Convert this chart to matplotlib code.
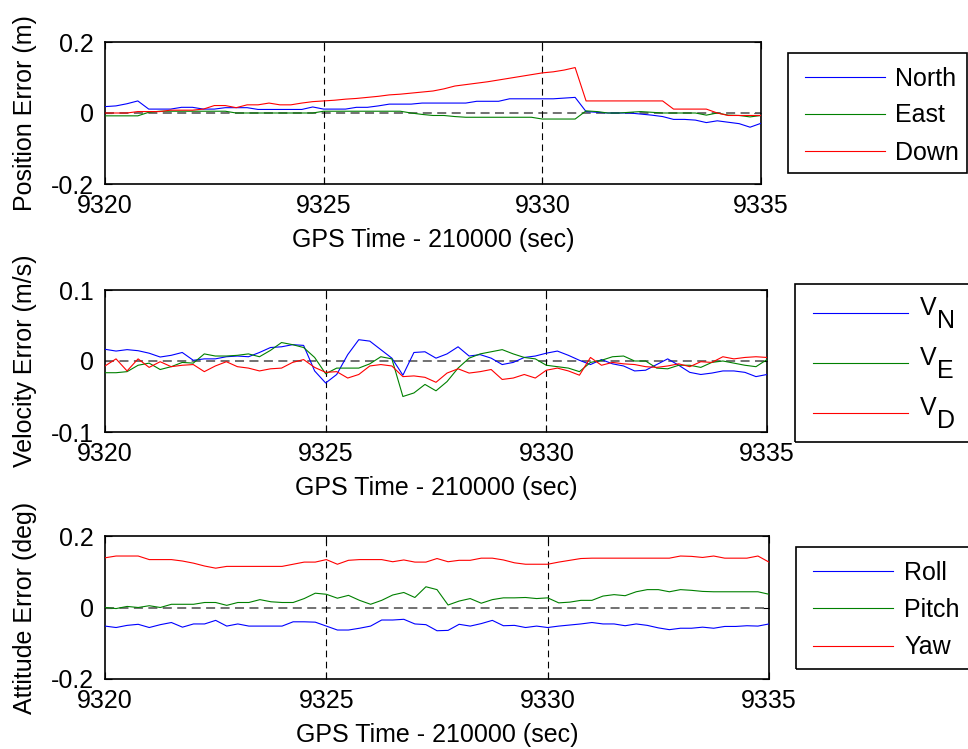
"""
Navigation error plots: position, velocity and attitude vs GPS time.
"""
import numpy as np
import matplotlib
matplotlib.use('Agg')
import matplotlib.pyplot as plt
from matplotlib.patches import Rectangle
from matplotlib.ticker import FuncFormatter
from matplotlib.legend_handler import HandlerLine2D

plt.rcParams['font.family'] = ['Liberation Sans', 'DejaVu Sans']
plt.rcParams['font.size'] = 18

# sample times (GPS time - 210000 s), 0.25 s step
time = np.arange(9320, 9335.001, 0.25)

pos_north = [0.018, 0.020, 0.026, 0.034, 0.011, 0.011, 0.011, 0.016, 0.016, 0.011,
             0.011, 0.015, 0.015, 0.015, 0.010, 0.010, 0.010, 0.010, 0.010, 0.017,
             0.011, 0.011, 0.011, 0.016, 0.016, 0.020, 0.025, 0.025, 0.025, 0.028,
             0.028, 0.028, 0.028, 0.028, 0.033, 0.033, 0.033, 0.040, 0.040, 0.040,
             0.040, 0.040, 0.042, 0.044, 0.004, 0.002, 0.000, 0.000, 0.000, -0.003,
             -0.006, -0.010, -0.018, -0.018, -0.020, -0.027, -0.022, -0.026, -0.030, -0.040,
             -0.029]
pos_east = [-0.008, -0.008, -0.008, -0.008, 0.002, 0.005, 0.005, 0.005, 0.005, 0.005,
            0.005, 0.005, 0.000, 0.000, 0.000, 0.000, 0.000, 0.000, 0.000, 0.000,
            0.005, 0.005, 0.005, 0.005, 0.005, 0.005, 0.005, 0.005, 0.000, -0.004,
            -0.007, -0.007, -0.010, -0.012, -0.012, -0.012, -0.012, -0.012, -0.012, -0.012,
            -0.017, -0.017, -0.017, -0.017, 0.006, 0.004, 0.000, 0.000, 0.002, 0.004,
            0.002, 0.000, 0.000, 0.000, 0.000, -0.006, 0.000, -0.006, -0.007, -0.011,
            -0.007]
pos_down = [0.000, 0.000, 0.000, 0.004, 0.004, 0.004, 0.008, 0.008, 0.008, 0.011,
            0.021, 0.021, 0.015, 0.023, 0.023, 0.028, 0.023, 0.023, 0.028, 0.032,
            0.034, 0.036, 0.039, 0.041, 0.044, 0.047, 0.051, 0.053, 0.056, 0.059,
            0.062, 0.068, 0.076, 0.080, 0.084, 0.088, 0.093, 0.098, 0.103, 0.108,
            0.113, 0.116, 0.121, 0.128, 0.034, 0.034, 0.034, 0.034, 0.034, 0.034,
            0.034, 0.034, 0.011, 0.011, 0.011, 0.011, 0.000, -0.007, -0.007, -0.007,
            -0.007]

vel_n = [0.0165, 0.014, 0.016, 0.0145, 0.011, 0.0056, 0.008, 0.012, 0.001, 0.003,
         0.003, 0.006, 0.007, 0.006, 0.012, 0.019, 0.020, 0.023, 0.022, -0.014,
         -0.031, -0.019, 0.009, 0.030, 0.028, 0.016, 0.004, -0.020, 0.012, 0.013,
         0.004, 0.010, 0.020, 0.007, 0.009, 0.004, -0.005, -0.002, 0.005, 0.007,
         0.011, 0.014, 0.008, 0.001, -0.005, 0.002, -0.004, -0.007, -0.014, -0.013,
         -0.005, 0.003, -0.006, -0.016, -0.019, -0.017, -0.014, -0.014, -0.016, -0.022,
         -0.019]
vel_e = [-0.0165, -0.0165, -0.015, -0.006, -0.003, -0.012, -0.008, -0.002, -0.003, 0.010,
         0.007, 0.007, 0.008, 0.010, 0.006, 0.015, 0.026, 0.023, 0.019, 0.005,
         -0.018, -0.010, -0.010, -0.010, -0.004, 0.006, 0.003, -0.050, -0.045, -0.033,
         -0.042, -0.029, -0.010, 0.004, 0.010, 0.013, 0.016, 0.010, 0.005, 0.003,
         -0.006, -0.008, -0.010, -0.015, -0.002, 0.001, 0.006, 0.007, 0.000, 0.000,
         -0.010, -0.011, -0.006, -0.006, -0.009, -0.002, 0.000, -0.003, -0.006, -0.008,
         0.002]
vel_d = [-0.007, 0.003, -0.014, 0.003, -0.009, -0.001, -0.008, -0.006, -0.005, -0.015,
         -0.007, -0.001, -0.008, -0.010, -0.014, -0.011, -0.010, -0.002, 0.002, -0.009,
         -0.016, -0.015, -0.024, -0.019, -0.007, -0.005, -0.007, -0.022, -0.021, -0.023,
         -0.030, -0.017, -0.011, -0.017, -0.015, -0.012, -0.026, -0.024, -0.019, -0.024,
         -0.013, -0.010, -0.014, -0.020, 0.005, -0.006, -0.002, -0.004, -0.005, -0.008,
         -0.009, -0.007, -0.004, -0.008, -0.001, -0.002, 0.006, 0.003, 0.005, 0.006,
         0.005]

att_roll = [-0.052, -0.056, -0.050, -0.047, -0.056, -0.048, -0.042, -0.055, -0.046, -0.046,
            -0.036, -0.052, -0.046, -0.052, -0.052, -0.052, -0.052, -0.040, -0.040, -0.041,
            -0.052, -0.063, -0.063, -0.058, -0.052, -0.035, -0.035, -0.033, -0.046, -0.048,
            -0.065, -0.064, -0.047, -0.052, -0.045, -0.036, -0.051, -0.050, -0.056, -0.052,
            -0.056, -0.052, -0.049, -0.046, -0.042, -0.046, -0.046, -0.051, -0.046, -0.050,
            -0.057, -0.062, -0.058, -0.058, -0.055, -0.058, -0.053, -0.053, -0.051, -0.052,
            -0.046]
att_pitch = [0.000, -0.003, 0.003, 0.000, 0.005, 0.000, 0.009, 0.009, 0.009, 0.014,
             0.014, 0.006, 0.014, 0.014, 0.022, 0.016, 0.014, 0.014, 0.025, 0.040,
             0.037, 0.026, 0.034, 0.020, 0.009, 0.020, 0.035, 0.042, 0.028, 0.058,
             0.050, 0.007, 0.018, 0.025, 0.012, 0.022, 0.027, 0.027, 0.028, 0.025,
             0.027, 0.013, 0.015, 0.020, 0.020, 0.032, 0.036, 0.033, 0.044, 0.050,
             0.050, 0.044, 0.050, 0.048, 0.045, 0.044, 0.044, 0.044, 0.044, 0.044,
             0.037]
att_yaw = [0.139, 0.144, 0.144, 0.144, 0.134, 0.134, 0.134, 0.130, 0.124, 0.116,
           0.110, 0.115, 0.115, 0.115, 0.115, 0.115, 0.115, 0.121, 0.127, 0.127,
           0.134, 0.121, 0.132, 0.134, 0.134, 0.134, 0.128, 0.133, 0.127, 0.127,
           0.137, 0.128, 0.132, 0.132, 0.138, 0.138, 0.133, 0.125, 0.121, 0.121,
           0.121, 0.127, 0.132, 0.137, 0.138, 0.138, 0.138, 0.138, 0.138, 0.138,
           0.138, 0.138, 0.144, 0.143, 0.140, 0.144, 0.138, 0.138, 0.138, 0.144,
           0.127]

COLORS = ['#0000ff', '#008000', '#ff0000']
W, H = 968, 749

fig = plt.figure(figsize=(W / 100, H / 100), dpi=100)


def px_axes(l, t, r, b):
    "Axes from pixel box (left, top, right, bottom)"
    return fig.add_axes([l / W, 1 - b / H, (r - l) / W, (b - t) / H])


def frame(l, t, r, b):
    "Legend box drawn in pixel coords"
    fig.add_artist(Rectangle((l / W, 1 - b / H), (r - l) / W, (b - t) / H,
                             transform=fig.transFigure, fill=False,
                             ec='k', lw=1.2))


class LowLine(HandlerLine2D):
    "Legend line sitting a bit lower, level with a subscripted label"
    def create_artists(self, legend, orig_handle, xdescent, ydescent,
                       width, height, fontsize, trans):
        arts = super().create_artists(legend, orig_handle, xdescent, ydescent,
                                      width, height, fontsize, trans)
        for a in arts:
            a.set_ydata(np.asarray(a.get_ydata()) - 0.28 * fontsize)
        return arts


fmt = FuncFormatter(lambda v, p: '0' if abs(v) < 1e-9 else f'{v:g}')


def panel(box, series, labels, ylim, ylabel):
    ax = px_axes(*box)
    for y, c, lab in zip(series, COLORS, labels):
        ax.plot(time, y, color=c, lw=0.8, label=lab, zorder=3)
    ax.axhline(0, color='0.4', ls=(0, (5, 3)), lw=1.3, zorder=2)
    for x in (9325, 9330):
        ax.axvline(x, color='k', ls=(0, (6, 4)), lw=0.8, zorder=2)
    ax.set_xlim(9320, 9335)
    ax.set_ylim(*ylim)
    ax.set_xticks([9320, 9325, 9330, 9335])
    ax.set_yticks([ylim[0], 0, ylim[1]])
    ax.yaxis.set_major_formatter(fmt)
    ax.tick_params(direction='in', length=5, width=0.8, top=True, right=True)
    ax.tick_params(axis='x', pad=7)
    ax.tick_params(axis='y', pad=8)
    for s in ax.spines.values():
        s.set_linewidth(1.2)
    ax.set_xlabel('GPS Time - 210000 (sec)')
    ax.xaxis.set_label_coords(0.5, -0.31)
    ax.set_ylabel(ylabel)
    ax.yaxis.set_label_coords((37 - box[0]) / (box[2] - box[0]), 0.5)
    return ax


ax1 = panel((105, 42, 761, 184), [pos_north, pos_east, pos_down],
            ['North', 'East', 'Down'], (-0.2, 0.2), 'Position Error (m)')
ax1.legend(loc='upper left', bbox_to_anchor=(805 / W, 1 - 66.5 / H),
           bbox_transform=fig.transFigure, frameon=False, borderpad=0,
           borderaxespad=0, handlelength=3.2, handletextpad=0.4,
           labelspacing=0.52)
frame(788, 53, 967, 173)

ax2 = panel((105, 290, 767, 432), [vel_n, vel_e, vel_d],
            ['V', 'V', 'V'], (-0.1, 0.1), 'Velocity Error (m/s)')
leg2 = ax2.legend(loc='upper left', bbox_to_anchor=(813 / W, 1 - 295.5 / H),
                  bbox_transform=fig.transFigure, frameon=False, borderpad=0,
                  borderaxespad=0, handlelength=3.8, handletextpad=0.48,
                  labelspacing=1.04, handler_map={plt.Line2D: LowLine()})
for txt, sub in zip(leg2.get_texts(), ['N', 'E', 'D']):
    ax2.annotate(sub, xy=(1, 0), xycoords=txt, xytext=(0, -1),
                 textcoords='offset points', ha='left', va='center',
                 zorder=10)
frame(795, 284, 990, 442)

ax3 = panel((105, 536, 769, 679), [att_roll, att_pitch, att_yaw],
            ['Roll', 'Pitch', 'Yaw'], (-0.2, 0.2), 'Attitude Error (deg)')
ax3.legend(loc='upper left', bbox_to_anchor=(813 / W, 1 - 560.5 / H),
           bbox_transform=fig.transFigure, frameon=False, borderpad=0,
           borderaxespad=0, handlelength=3.2, handletextpad=0.44,
           labelspacing=0.54)
frame(796, 547, 990, 669)

fig.savefig('out.png', dpi=100)
